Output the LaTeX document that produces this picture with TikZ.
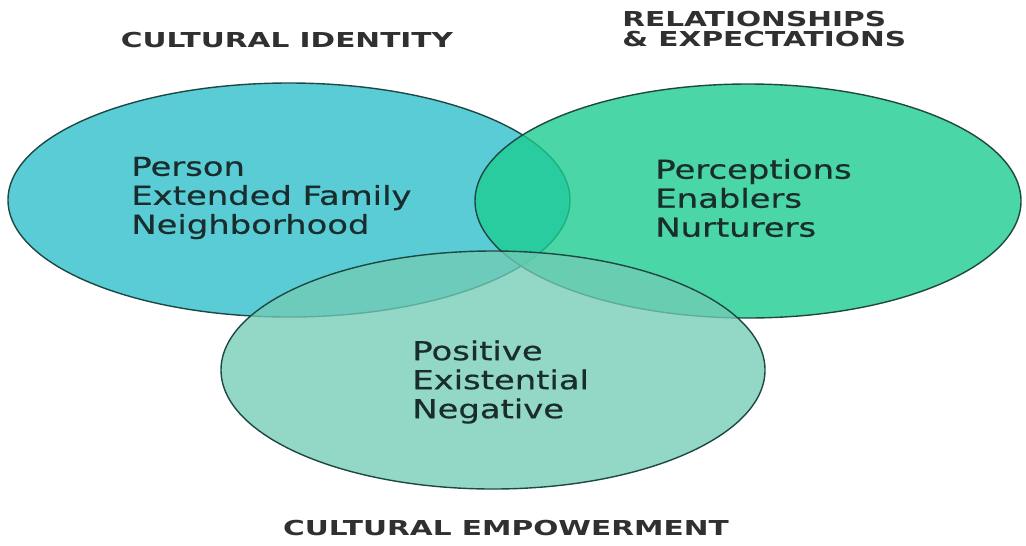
\documentclass[tikz,border=0pt]{standalone}
\usepackage{fontspec}
\setmainfont{DejaVu Sans}
\newfontfamily\labelfont[FakeStretch=1.3,FakeBold=0.6]{DejaVu Sans}
\newfontfamily\headfont[FakeStretch=1.44]{DejaVu Sans}

\definecolor{identityfill}{RGB}{90,204,214}
\definecolor{relationfill}{RGB}{29,204,144}
\definecolor{empowerfill}{RGB}{115,203,181}
\definecolor{rim}{RGB}{30,72,68}
\definecolor{inktext}{RGB}{25,45,45}
\definecolor{headtext}{RGB}{48,48,48}

\tikzset{
  circle line/.style={draw=rim,line width=0.8pt},
  item/.style={inner sep=0pt,align=left,text=inktext,
    font=\labelfont\fontsize{14.8}{16.5}\selectfont},
  heading/.style={inner sep=0pt,text=headtext,
    font=\headfont\bfseries\fontsize{11.7}{11.4}\selectfont}
}

\begin{document}
\begin{tikzpicture}[x=0.02cm,y=-0.02cm]
\useasboundingbox (0,0) rectangle (1026,545);
% the three sets
\filldraw[circle line,fill=identityfill] (289,200) ellipse [x radius=281,y radius=117];
\filldraw[circle line,fill=relationfill,fill opacity=0.8] (748,201) ellipse [x radius=273,y radius=117];
\filldraw[circle line,fill=empowerfill,fill opacity=0.77] (493,370) ellipse [x radius=272,y radius=119];
% contents
\node[item,anchor=west] (identity items) at (131,198) {Person\\Extended Family\\Neighborhood};
\node[item,anchor=west] (relation items) at (655,198) {Perceptions\\Enablers\\Nurturers};
\node[item,anchor=west] (empower items) at (412,382) {Positive\\Existential\\Negative};
% headings
\node[heading] (identity) at (287,40) {CULTURAL IDENTITY};
\node[heading,anchor=west,align=left] (relation) at (622,29) {RELATIONSHIPS\\\& EXPECTATIONS};
\node[heading] (empower) at (506,528) {CULTURAL EMPOWERMENT};
\end{tikzpicture}
\end{document}
